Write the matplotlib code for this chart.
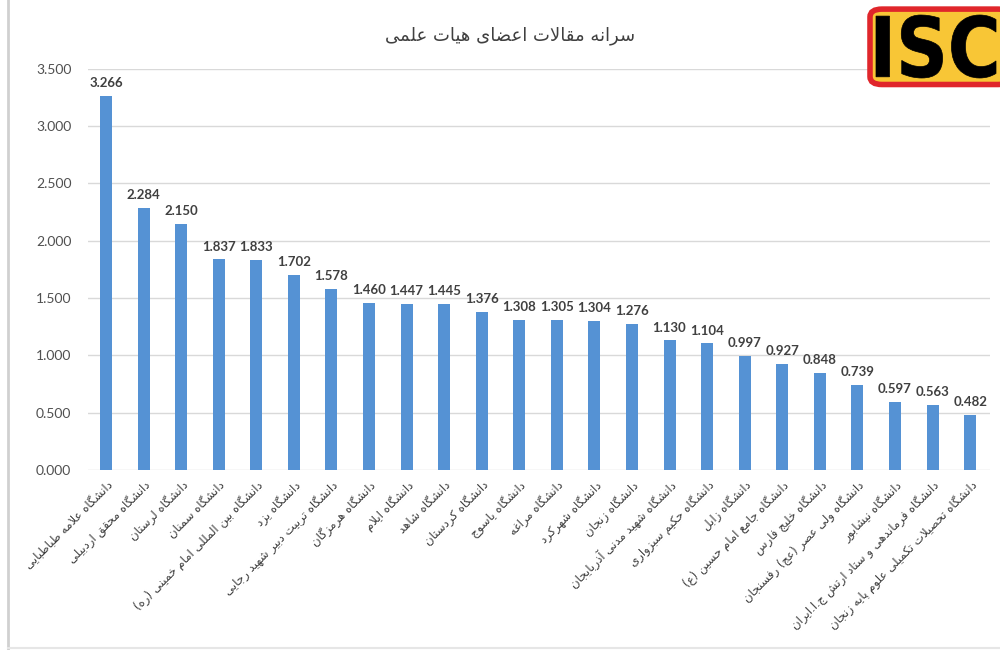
import matplotlib
matplotlib.use("Agg")
import matplotlib.pyplot as plt
from matplotlib.patches import FancyBboxPatch, PathPatch
from matplotlib.lines import Line2D
from matplotlib.textpath import TextPath
from matplotlib.font_manager import FontProperties
from matplotlib.transforms import Affine2D, IdentityTransform

title = "سرانه مقالات اعضای هیات علمی"
universities = [
    "دانشگاه علامه طباطبایی",
    "دانشگاه محقق اردبیلی",
    "دانشگاه لرستان",
    "دانشگاه سمنان",
    "دانشگاه بین المللی امام خمینی (ره)",
    "دانشگاه یزد",
    "دانشگاه تربیت دبیر شهید رجایی",
    "دانشگاه هرمزگان",
    "دانشگاه ایلام",
    "دانشگاه شاهد",
    "دانشگاه کردستان",
    "دانشگاه یاسوج",
    "دانشگاه مراغه",
    "دانشگاه شهرکرد",
    "دانشگاه زنجان",
    "دانشگاه شهید مدنی آذربایجان",
    "دانشگاه حکیم سبزواری",
    "دانشگاه زابل",
    "دانشگاه جامع امام حسین (ع)",
    "دانشگاه خلیج فارس",
    "دانشگاه ولی عصر (عج) رفسنجان",
    "دانشگاه نیشابور",
    "دانشگاه فرماندهی و ستاد ارتش ج.ا.ایران",
    "دانشگاه تحصیلات تکمیلی علوم پایه زنجان",
]
values = [3.266, 2.284, 2.150, 1.837, 1.833, 1.702, 1.578, 1.460, 1.447, 1.445,
          1.376, 1.308, 1.305, 1.304, 1.276, 1.130, 1.104, 0.997, 0.927, 0.848,
          0.739, 0.597, 0.563, 0.482]
yticks = [0.0, 0.5, 1.0, 1.5, 2.0, 2.5, 3.0, 3.5]
logo_text = "ISC"

# ---- minimal Arabic/Persian shaping (contextual forms + RTL order) ----
FORMS = {  # isolated, final, initial, medial
    'ا': ('\uFE8D', '\uFE8E'), 'آ': ('\uFE81', '\uFE82'),
    'ب': ('\uFE8F', '\uFE90', '\uFE91', '\uFE92'),
    'پ': ('\uFB56', '\uFB57', '\uFB58', '\uFB59'),
    'ت': ('\uFE95', '\uFE96', '\uFE97', '\uFE98'),
    'ث': ('\uFE99', '\uFE9A', '\uFE9B', '\uFE9C'),
    'ج': ('\uFE9D', '\uFE9E', '\uFE9F', '\uFEA0'),
    'چ': ('\uFB7A', '\uFB7B', '\uFB7C', '\uFB7D'),
    'ح': ('\uFEA1', '\uFEA2', '\uFEA3', '\uFEA4'),
    'خ': ('\uFEA5', '\uFEA6', '\uFEA7', '\uFEA8'),
    'د': ('\uFEA9', '\uFEAA'), 'ذ': ('\uFEAB', '\uFEAC'),
    'ر': ('\uFEAD', '\uFEAE'), 'ز': ('\uFEAF', '\uFEB0'),
    'ژ': ('\uFB8A', '\uFB8B'),
    'س': ('\uFEB1', '\uFEB2', '\uFEB3', '\uFEB4'),
    'ش': ('\uFEB5', '\uFEB6', '\uFEB7', '\uFEB8'),
    'ص': ('\uFEB9', '\uFEBA', '\uFEBB', '\uFEBC'),
    'ض': ('\uFEBD', '\uFEBE', '\uFEBF', '\uFEC0'),
    'ط': ('\uFEC1', '\uFEC2', '\uFEC3', '\uFEC4'),
    'ظ': ('\uFEC5', '\uFEC6', '\uFEC7', '\uFEC8'),
    'ع': ('\uFEC9', '\uFECA', '\uFECB', '\uFECC'),
    'غ': ('\uFECD', '\uFECE', '\uFECF', '\uFED0'),
    'ف': ('\uFED1', '\uFED2', '\uFED3', '\uFED4'),
    'ق': ('\uFED5', '\uFED6', '\uFED7', '\uFED8'),
    'ک': ('\uFB8E', '\uFB8F', '\uFB90', '\uFB91'),
    'گ': ('\uFB92', '\uFB93', '\uFB94', '\uFB95'),
    'ل': ('\uFEDD', '\uFEDE', '\uFEDF', '\uFEE0'),
    'م': ('\uFEE1', '\uFEE2', '\uFEE3', '\uFEE4'),
    'ن': ('\uFEE5', '\uFEE6', '\uFEE7', '\uFEE8'),
    'ه': ('\uFEE9', '\uFEEA', '\uFEEB', '\uFEEC'),
    'و': ('\uFEED', '\uFEEE'),
    'ی': ('\uFBFC', '\uFBFD', '\uFBFE', '\uFBFF'),
}
MIRROR = {'(': ')', ')': '('}


def shape(s):
    chars = list(s)
    out = []
    i = 0
    n = len(chars)
    while i < n:
        c = chars[i]
        if c not in FORMS:
            out.append(MIRROR.get(c, c))
            i += 1
            continue
        prev = chars[i - 1] if i > 0 else None
        joins_prev = prev in FORMS and len(FORMS[prev]) == 4
        if c == 'ل' and i + 1 < n and chars[i + 1] == 'ا':
            out.append('\uFEFC' if joins_prev else '\uFEFB')
            i += 2
            continue
        nxt = chars[i + 1] if i + 1 < n else None
        f = FORMS[c]
        joins_next = len(f) == 4 and nxt in FORMS
        if joins_prev and joins_next:
            g = f[3]
        elif joins_prev:
            g = f[1]
        elif joins_next:
            g = f[2]
        else:
            g = f[0]
        out.append(g)
        i += 1
    return ''.join(reversed(out))


plt.rcParams['font.family'] = ['DejaVu Sans']

W, H = 1000, 650
fig = plt.figure(figsize=(W / 100, H / 100), dpi=100)
ax = fig.add_axes([0.088, 0.277, 0.902, 0.617])

bar_color = '#5592d4'
x = list(range(len(values)))
ax.bar(x, values, width=0.32, color=bar_color, zorder=3)

for xi, v in zip(x, values):
    ax.annotate(f"{v:.3f}", (xi, v), xytext=(0, 5), textcoords='offset points',
                ha='center', va='bottom', fontsize=9.5, fontweight='bold',
                color='#404040', zorder=4, family='Lato')

ax.set_xlim(-0.48, len(values) - 0.47)
ax.set_ylim(0, 3.5)
ax.set_yticks(yticks)
ax.set_yticklabels([f"{t:.3f}" for t in yticks], fontsize=10, color='#505050',
                   family='Lato')
ax.yaxis.grid(True, color='#d9d9d9', linewidth=1.0, zorder=0)
ax.set_axisbelow(True)
for sp in ax.spines.values():
    sp.set_visible(False)
ax.tick_params(axis='both', length=0)
ax.tick_params(axis='y', pad=12)
ax.set_xticks(x)
ax.set_xticklabels([shape(u) for u in universities], rotation=45, ha='right',
                   rotation_mode='anchor', fontsize=8.5, color='#404040')
ax.tick_params(axis='x', pad=6)

fig.text(0.51, 0.945, shape(title), ha='center', va='center', fontsize=13,
         color='#404040')

# left / bottom frame lines
fig.add_artist(Line2D([0.008, 0.008], [0.0, 1.0], color='#d0d0d0', lw=2))
fig.add_artist(Line2D([0.008, 1.0], [0.003, 0.003], color='#e6e6e6', lw=1.5))

# ISC logo
logo = FancyBboxPatch((0.870, 0.870), 0.14, 0.116,
                      boxstyle="round,pad=0,rounding_size=0.012",
                      transform=fig.transFigure, facecolor='#f8c636',
                      edgecolor='#e0262b', linewidth=4, clip_on=False)
fig.add_artist(logo)
tp = TextPath((0, 0), logo_text, size=100,
              prop=FontProperties(family='DejaVu Sans', weight='bold'))
ext = tp.get_extents()
x0, x1 = 876, 996
y0, y1 = H - 78, H - 15
tr = (Affine2D().translate(-ext.x0, -ext.y0)
      .scale((x1 - x0) / ext.width, (y1 - y0) / ext.height)
      .translate(x0, y0))
fig.add_artist(PathPatch(tr.transform_path(tp), facecolor='black',
                         edgecolor='black', lw=0.5, transform=IdentityTransform()))

fig.savefig('out.png', dpi=100)
